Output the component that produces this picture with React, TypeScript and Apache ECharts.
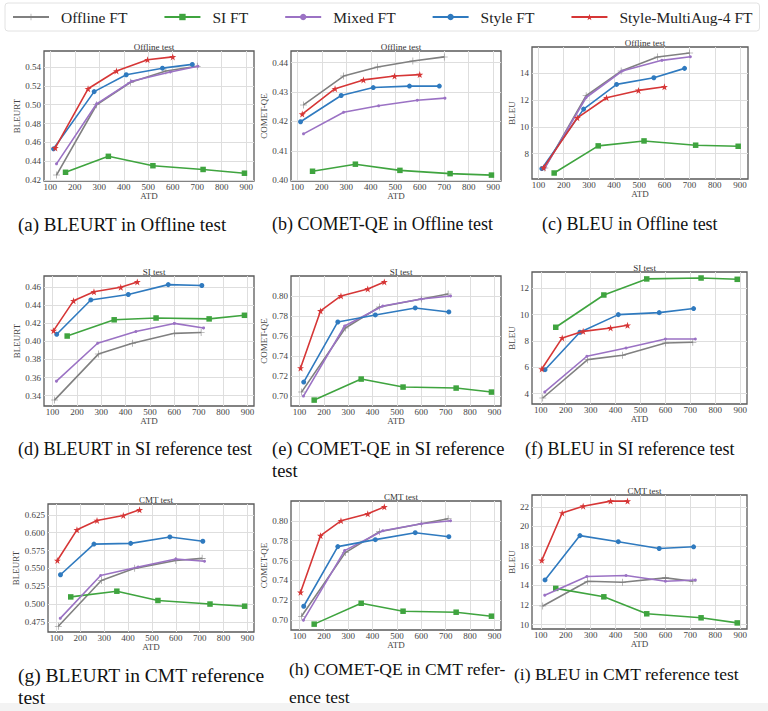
import { useEffect, useRef } from "react";
import * as echarts from "echarts";

const seriesNames = ["Offline FT", "SI FT", "Mixed FT", "Style FT", "Style-MultiAug-4 FT"];

// ATD per system on the offline test
const atdOffline_Offline = [125, 289, 428, 572, 700];
const atdOffline_SI = [162, 337, 519, 724, 893];
const atdOffline_Mixed = [125, 289, 432, 590, 703];
const atdOffline_Style = [113, 279, 410, 558, 680];
const atdOffline_Multi = [120, 254, 370, 497, 600];

// ATD per system on the SI / CMT tests
const atdSI_Offline = [108, 288, 428, 600, 710];
const atdSI_SI = [160, 353, 525, 743, 888];
const atdSI_Mixed = [116, 285, 442, 600, 720];
const atdSI_Style = [117, 257, 411, 575, 713];
const atdSI_Multi = [104, 186, 270, 380, 448];

// (a) BLEURT, offline test
const bleurtOff_Offline = [0.425, 0.5, 0.524, 0.536, 0.541];
const bleurtOff_SI = [0.428, 0.445, 0.435, 0.431, 0.427];
const bleurtOff_Mixed = [0.437, 0.501, 0.525, 0.535, 0.541];
const bleurtOff_Style = [0.453, 0.514, 0.532, 0.539, 0.543];
const bleurtOff_Multi = [0.454, 0.517, 0.536, 0.548, 0.551];

// (b) COMET-QE, offline test
const cometOff_Offline = [0.4256, 0.4354, 0.4385, 0.4405, 0.4419];
const cometOff_SI = [0.4031, 0.4055, 0.4034, 0.4023, 0.4018];
const cometOff_Mixed = [0.4158, 0.4231, 0.4253, 0.4272, 0.4279];
const cometOff_Style = [0.4199, 0.4288, 0.4315, 0.432, 0.432];
const cometOff_Multi = [0.4225, 0.4311, 0.4341, 0.4354, 0.4359];

// (c) BLEU, offline test
const bleuOff_Offline = [6.93, 12.33, 14.18, 15.23, 15.53];
const bleuOff_SI = [6.55, 8.58, 8.95, 8.63, 8.55];
const bleuOff_Mixed = [6.93, 12.2, 14.18, 14.98, 15.25];
const bleuOff_Style = [6.88, 11.33, 13.18, 13.68, 14.38];
const bleuOff_Multi = [6.95, 10.68, 12.18, 12.73, 13.0];

// (d) BLEURT, SI test
const bleurtSI_Offline = [0.335, 0.386, 0.398, 0.409, 0.41];
const bleurtSI_SI = [0.406, 0.424, 0.426, 0.425, 0.429];
const bleurtSI_Mixed = [0.356, 0.398, 0.411, 0.42, 0.415];
const bleurtSI_Style = [0.408, 0.446, 0.452, 0.463, 0.462];
const bleurtSI_Multi = [0.412, 0.445, 0.455, 0.46, 0.466];

// (e) COMET-QE, SI test
const cometSI_Offline = [0.704, 0.768, 0.789, 0.797, 0.802];
const cometSI_SI = [0.696, 0.717, 0.709, 0.708, 0.704];
const cometSI_Mixed = [0.7, 0.77, 0.79, 0.797, 0.8];
const cometSI_Style = [0.714, 0.774, 0.781, 0.788, 0.784];
const cometSI_Multi = [0.728, 0.785, 0.8, 0.807, 0.814];

// (f) BLEU, SI test
const bleuSI_Offline = [3.67, 6.58, 6.91, 7.85, 7.9];
const bleuSI_SI = [9.04, 11.49, 12.71, 12.78, 12.68];
const bleuSI_Mixed = [4.13, 6.84, 7.47, 8.15, 8.15];
const bleuSI_Style = [5.82, 8.66, 10.0, 10.15, 10.46];
const bleuSI_Multi = [5.87, 8.23, 8.73, 8.99, 9.19];

// (g) BLEURT, CMT test
const bleurtCMT_Offline = [0.469, 0.533, 0.55, 0.561, 0.564];
const bleurtCMT_SI = [0.51, 0.518, 0.505, 0.5, 0.497];
const bleurtCMT_Mixed = [0.48, 0.54, 0.552, 0.563, 0.56];
const bleurtCMT_Style = [0.541, 0.584, 0.585, 0.594, 0.588];
const bleurtCMT_Multi = [0.561, 0.604, 0.617, 0.624, 0.632];

// (h) COMET-QE, CMT test
const cometCMT_Offline = [0.704, 0.768, 0.789, 0.797, 0.802];
const cometCMT_SI = [0.696, 0.717, 0.709, 0.708, 0.704];
const cometCMT_Mixed = [0.7, 0.77, 0.79, 0.797, 0.8];
const cometCMT_Style = [0.714, 0.774, 0.781, 0.788, 0.784];
const cometCMT_Multi = [0.728, 0.785, 0.8, 0.807, 0.814];

// (i) BLEU, CMT test
const bleuCMT_Offline = [11.9, 14.41, 14.31, 14.76, 14.41];
const bleuCMT_SI = [13.69, 12.83, 11.1, 10.69, 10.17];
const bleuCMT_Mixed = [13.0, 14.9, 15.0, 14.41, 14.55];
const bleuCMT_Style = [14.55, 19.07, 18.45, 17.76, 17.93];
const bleuCMT_Multi = [16.55, 21.38, 22.07, 22.59, 22.59];

// tick labels
const atdTicks = [100, 200, 300, 400, 500, 600, 700, 800, 900];
const bleurtOffTicks = [0.42, 0.44, 0.46, 0.48, 0.5, 0.52, 0.54];
const cometOffTicks = [0.4, 0.41, 0.42, 0.43, 0.44];
const bleuOffTicks = [8, 10, 12, 14];
const bleurtSITicks = [0.34, 0.36, 0.38, 0.4, 0.42, 0.44, 0.46];
const cometTicks = [0.7, 0.72, 0.74, 0.76, 0.78, 0.8];
const bleuSITicks = [4, 6, 8, 10, 12];
const bleurtCMTTicks = [0.475, 0.5, 0.525, 0.55, 0.575, 0.6, 0.625];
const bleuCMTTicks = [10, 12, 14, 16, 18, 20, 22];

const xOffline = [atdOffline_Offline, atdOffline_SI, atdOffline_Mixed, atdOffline_Style, atdOffline_Multi];
const xSI = [atdSI_Offline, atdSI_SI, atdSI_Mixed, atdSI_Style, atdSI_Multi];

const panels = [
  { left: 44, top: 51, width: 210, height: 130, title: "Offline test", yName: "BLEURT", yGap: 11, dec: 2, ticks: bleurtOffTicks, xs: xOffline,
    ys: [bleurtOff_Offline, bleurtOff_SI, bleurtOff_Mixed, bleurtOff_Style, bleurtOff_Multi] },
  { left: 291, top: 51, width: 210, height: 130, title: "Offline test", yName: "COMET-QE", yGap: 13, dec: 2, ticks: cometOffTicks, xs: xOffline,
    ys: [cometOff_Offline, cometOff_SI, cometOff_Mixed, cometOff_Style, cometOff_Multi] },
  { left: 532, top: 47, width: 216, height: 132, title: "Offline test", yName: "BLEU", yGap: 8, dec: 0, ticks: bleuOffTicks, xs: xOffline,
    ys: [bleuOff_Offline, bleuOff_SI, bleuOff_Mixed, bleuOff_Style, bleuOff_Multi] },
  { left: 44, top: 276, width: 210, height: 130, title: "SI test", yName: "BLEURT", yGap: 11, dec: 2, ticks: bleurtSITicks, xs: xSI,
    ys: [bleurtSI_Offline, bleurtSI_SI, bleurtSI_Mixed, bleurtSI_Style, bleurtSI_Multi] },
  { left: 291, top: 276, width: 210, height: 130, title: "SI test", yName: "COMET-QE", yGap: 13, dec: 2, ticks: cometTicks, xs: xSI,
    ys: [cometSI_Offline, cometSI_SI, cometSI_Mixed, cometSI_Style, cometSI_Multi] },
  { left: 532, top: 272, width: 215, height: 132, title: "SI test", yName: "BLEU", yGap: 7, dec: 0, ticks: bleuSITicks, xs: xSI,
    ys: [bleuSI_Offline, bleuSI_SI, bleuSI_Mixed, bleuSI_Style, bleuSI_Multi] },
  { left: 48, top: 504, width: 206, height: 128, title: "CMT test", yName: "BLEURT", yGap: 15, dec: 3, ticks: bleurtCMTTicks, xs: xSI,
    ys: [bleurtCMT_Offline, bleurtCMT_SI, bleurtCMT_Mixed, bleurtCMT_Style, bleurtCMT_Multi] },
  { left: 291, top: 501, width: 210, height: 129, title: "CMT test", yName: "COMET-QE", yGap: 13, dec: 2, ticks: cometTicks, xs: xSI,
    ys: [cometCMT_Offline, cometCMT_SI, cometCMT_Mixed, cometCMT_Style, cometCMT_Multi] },
  { left: 532, top: 495, width: 215, height: 134, title: "CMT test", yName: "BLEU", yGap: 9, dec: 0, ticks: bleuCMTTicks, xs: xSI,
    ys: [bleuCMT_Offline, bleuCMT_SI, bleuCMT_Mixed, bleuCMT_Style, bleuCMT_Multi] },
];

const captions = [
  { x: 18, y: 224, size: 19, text: "(a) BLEURT in Offline test" },
  { x: 272, y: 224, size: 18, text: "(b) COMET-QE in Offline test" },
  { x: 542, y: 224, size: 18, text: "(c) BLEU in Offline test" },
  { x: 18, y: 449, size: 18, text: "(d) BLEURT in SI reference test" },
  { x: 272, y: 449, size: 18.5, text: "(e) COMET-QE in SI reference" },
  { x: 272, y: 471, size: 18.5, text: "test" },
  { x: 525, y: 449, size: 18, text: "(f) BLEU in SI reference test" },
  { x: 18, y: 675, size: 19.5, text: "(g) BLEURT in CMT reference" },
  { x: 18, y: 697, size: 19.5, text: "test" },
  { x: 289, y: 669, size: 17.5, text: "(h) COMET-QE in CMT refer-" },
  { x: 289, y: 697, size: 17.5, text: "ence test" },
  { x: 514, y: 674, size: 17.5, text: "(i) BLEU in CMT reference test" },
];

const PLUS = "path://M4.6,0H5.4V4.6H10V5.4H5.4V10H4.6V5.4H0V4.6H4.6Z";
const STAR = "path://M50,0L61.2,34.5H97.6L68.2,55.9L79.4,90.5L50,69.1L20.6,90.5L31.8,55.9L2.4,34.5H38.8Z";

const styles = [
  { color: "#808080", symbol: PLUS, size: 7 },
  { color: "#3fa43f", symbol: "rect", size: 5.5 },
  { color: "#9b72c4", symbol: "circle", size: 3 },
  { color: "#2f7abf", symbol: "circle", size: 5 },
  { color: "#d63636", symbol: STAR, size: 7 },
];

const FONT = "Liberation Serif";

function padExtent(arrs: number[][]) {
  const all = arrs.flat();
  const lo = Math.min(...all);
  const hi = Math.max(...all);
  const p = (hi - lo) * 0.05;
  return [lo - p, hi + p];
}

const App = () => {
  const chartRef = useRef<HTMLDivElement>(null);

  useEffect(() => {
    document.body.style.margin = "0";
    const chart = echarts.init(chartRef.current!, null, { renderer: "svg" });

    const grid: any[] = [];
    const xAxis: any[] = [];
    const yAxis: any[] = [];
    const title: any[] = [];
    const series: any[] = [];

    panels.forEach((p, i) => {
      grid.push({
        left: p.left, top: p.top, width: p.width, height: p.height,
        show: true, borderColor: "#5a5a5a", borderWidth: 1.3, containLabel: false,
      });
      const [x0, x1] = padExtent(p.xs);
      const [y0, y1] = padExtent(p.ys);
      const yTicks = p.ticks.filter((t) => t >= y0 && t <= y1);
      const xTicks = atdTicks.filter((t) => t >= x0 && t <= x1);
      xAxis.push({
        type: "value", gridIndex: i, min: x0, max: x1,
        name: "ATD", nameLocation: "middle", nameGap: 10,
        nameTextStyle: { fontFamily: FONT, fontSize: 9, fontWeight: "normal", color: "#444" },
        axisLine: { show: false },
        axisTick: { show: false, customValues: xTicks },
        axisLabel: { customValues: xTicks, margin: 1, fontFamily: FONT, fontSize: 9, color: "#444" },
        splitLine: { show: true, lineStyle: { color: "#dedede", width: 1 } },
      });
      yAxis.push({
        type: "value", gridIndex: i, min: y0, max: y1,
        name: p.yName, nameLocation: "middle", nameGap: p.yGap,
        nameTextStyle: { fontFamily: FONT, fontSize: 9, fontWeight: "normal", color: "#444" },
        axisLine: { show: false },
        axisTick: { show: false, customValues: yTicks },
        axisLabel: {
          customValues: yTicks, margin: 3, fontFamily: FONT, fontSize: 9, color: "#444",
          formatter: (v: number) => v.toFixed(p.dec),
        },
        splitLine: { show: true, lineStyle: { color: "#dedede", width: 1 } },
      });
      title.push({
        text: p.title, left: p.left + p.width / 2, top: p.top - 14, textAlign: "center",
        textStyle: { fontFamily: FONT, fontSize: 9, fontWeight: "normal", color: "#333" },
      });
      seriesNames.forEach((name, k) => {
        const st = styles[k];
        series.push({
          name, type: "line", xAxisIndex: i, yAxisIndex: i,
          data: p.xs[k].map((x, j) => [x, p.ys[k][j]]),
          symbol: st.symbol, symbolSize: st.size,
          lineStyle: { color: st.color, width: 1.6 },
          itemStyle: { color: st.color },
          z: 2 + k,
        });
      });
    });

    chart.setOption({
      animation: false,
      backgroundColor: "#fff",
      color: styles.map((s) => s.color),
      legend: {
        data: seriesNames,
        left: 5, top: 3, width: 760,
        padding: [6, 7, 6, 7],
        itemWidth: 36, itemHeight: 8, itemGap: 36,
        borderColor: "#e2e2e2", borderWidth: 1, borderRadius: 3,
        formatter: (n: string) => "{t|" + n + "}",
        textStyle: {
          fontFamily: FONT, fontSize: 15.5, fontWeight: "normal", color: "#222",
          rich: { t: { fontFamily: FONT, fontSize: 15.5, fontWeight: "normal", color: "#222", padding: [0, 0, 0, 7] } },
        },
      },
      title,
      grid,
      xAxis,
      yAxis,
      series,
      graphic: [
        { type: "rect", shape: { x: 0, y: 703, width: 768, height: 8 }, style: { fill: "#f3f3f3" }, silent: true },
        ...captions.map((c) => ({
          type: "text", x: c.x, y: c.y,
          style: { text: c.text, fontFamily: FONT, fontSize: c.size, fill: "#111", verticalAlign: "middle" },
        })),
      ],
    });

    return () => {
      chart.dispose();
    };
  }, []);

  return <div ref={chartRef} style={{ width: 768, height: 711 }} />;
};

export default App;
